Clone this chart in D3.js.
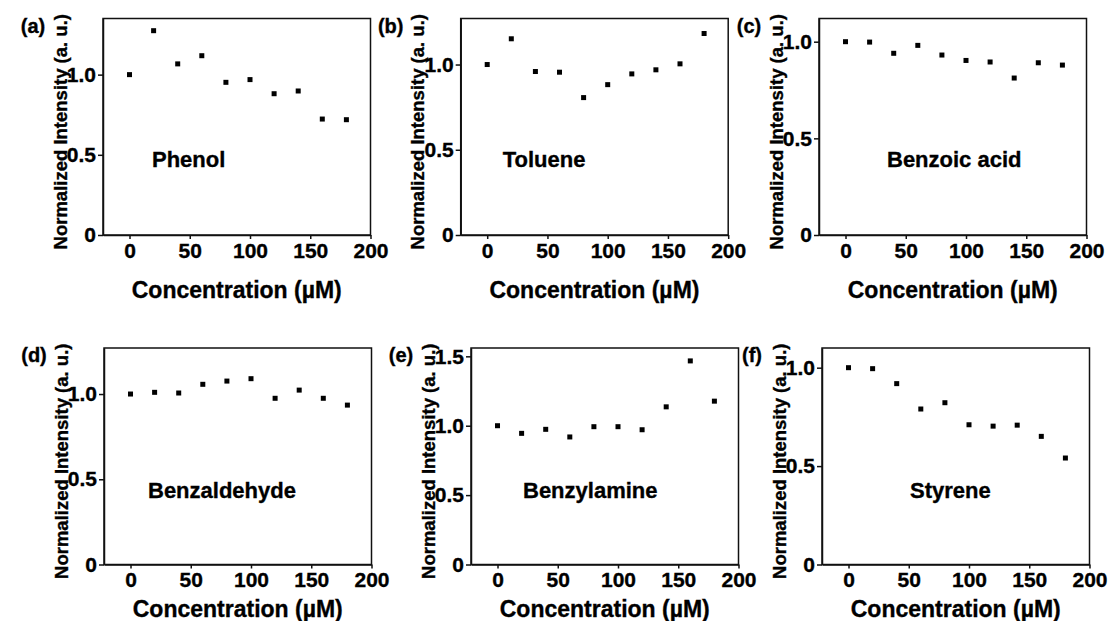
<!doctype html>
<html lang="en">
<head>
 <meta charset="utf-8">
 <title>Normalized intensity vs concentration</title>
 <style>
 body{margin:0;background:#fff;}
 svg{display:block;font-family:"Liberation Sans",Arial,sans-serif;font-weight:bold;}
 svg text{stroke:#000;stroke-width:0.35px;}
 .axis path,.axis line{stroke:#111;stroke-width:1.5;}
 .axis text{font-size:21px;font-weight:bold;fill:#000;font-family:"Liberation Sans",Arial,sans-serif;}
 </style>
 <script src="https://cdnjs.cloudflare.com/ajax/libs/d3/7.8.5/d3.min.js"></script>
</head>
<body>
 <svg width="1112" height="621"></svg>
 <script>

 // concentrations (uM) shared by every panel
 const conc=[0,20,40,60,80,100,120,140,160,180];

 const phenol=[1.0,1.274,1.067,1.118,0.952,0.969,0.881,0.898,0.723,0.719];
 const toluene=[1.0,1.151,0.959,0.955,0.806,0.882,0.945,0.969,1.004,1.182];
 const benzoic=[1.0,0.998,0.94,0.981,0.931,0.903,0.895,0.812,0.891,0.879];
 const benzaldehyde=[1.0,1.01,1.006,1.057,1.076,1.09,0.975,1.023,0.975,0.935];
 const benzylamine=[1.0,0.945,0.974,0.919,0.993,0.993,0.971,1.136,1.467,1.177];
 const styrene=[1.0,0.995,0.919,0.79,0.822,0.71,0.703,0.708,0.651,0.541];

 const names=["Phenol","Toluene","Benzoic acid","Benzaldehyde","Benzylamine","Styrene"];
 const tags=["(a)","(b)","(c)","(d)","(e)","(f)"];
 const series=[phenol,toluene,benzoic,benzaldehyde,benzylamine,styrene];

 const xTicks=[0,50,100,150,200];
 const yTicksStd=[0,0.5,1.0];
 const yTicksE=[0,0.5,1.0,1.5];
 const yMaxes=[1.35,1.27,1.12,1.27,1.56,1.1];

 // frame positions of each panel
 const W=267.5, H=216.5;
 const layout=[
 {left:103,top:18.5,nameDx:49,xTitleDy:63},
 {left:460.7,top:18.5,nameDx:42,xTitleDy:63},
 {left:819,top:18.5,nameDx:68,xTitleDy:63},
 {left:104,top:348,nameDx:44,xTitleDy:52},
 {left:471,top:348,nameDx:52,xTitleDy:52},
 {left:822,top:348,nameDx:88,xTitleDy:52}
 ];

 const svg=d3.select("svg");
 const yFmt=d=>d===0?"0":d3.format(".1f")(d);

 layout.forEach((p,i)=>{
 const g=svg.append("g").attr("transform",`translate(${p.left},${p.top})`);

 const x=d3.scaleLinear().domain([-22,200]).range([0,W]);
 const y=d3.scaleLinear().domain([0,yMaxes[i]]).range([H,0]);

 // frame
 g.append("rect")
 .attr("width",W).attr("height",H)
 .attr("fill","none").attr("stroke","#111").attr("stroke-width",1.5);

 g.append("g").attr("class","axis")
 .attr("transform",`translate(0,${H})`)
 .call(d3.axisBottom(x).tickValues(xTicks).tickSize(4).tickPadding(4).tickSizeOuter(0));

 g.append("g").attr("class","axis")
 .call(d3.axisLeft(y).tickValues(i===4?yTicksE:yTicksStd).tickFormat(yFmt).tickSize(5).tickPadding(2).tickSizeOuter(0));

 g.selectAll(".pt")
 .data(conc.map((c,k)=>({c:c,v:series[i][k]})))
 .enter()
 .append("rect")
 .attr("class","pt")
 .attr("x",d=>x(d.c)-2.5)
 .attr("y",d=>y(d.v)-2.5)
 .attr("width",5).attr("height",5)
 .attr("fill","#000");

 g.append("text")
 .text(names[i])
 .attr("x",p.nameDx)
 .attr("y",148.5+(i>2?1.5:0))
 .style("font-size","22px");

 g.append("text")
 .text("Concentration (\u00b5M)")
 .attr("x",W/2)
 .attr("y",H+p.xTitleDy)
 .attr("text-anchor","middle")
 .style("font-size","23px");

 g.append("text")
 .text("Normalized Intensity (a. u.)")
 .attr("transform","rotate(-90)")
 .attr("x",-(H/2+5))
 .attr("y",-36.5)
 .attr("text-anchor","middle")
 .style("font-size","18.5px");

 g.append("text")
 .text(tags[i])
 .attr("x",-70)
 .attr("y",14)
 .attr("text-anchor","middle")
 .style("font-size","20px");
 });

 </script>
</body>
</html>
